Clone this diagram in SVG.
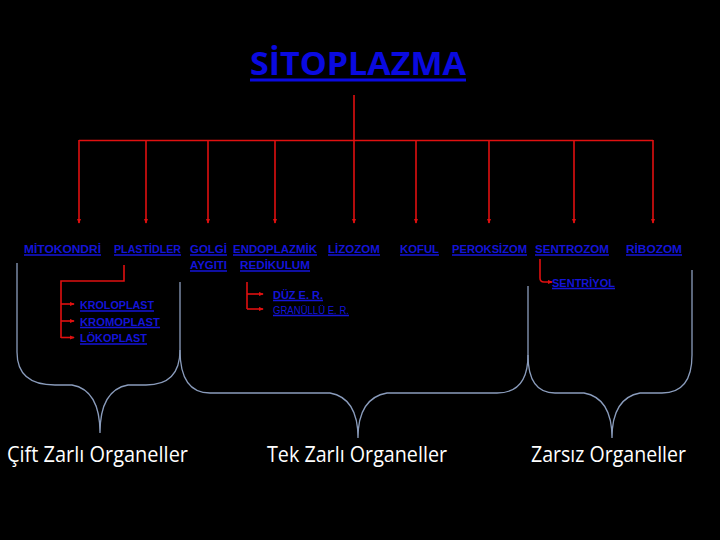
<svg xmlns="http://www.w3.org/2000/svg" width="720" height="540" viewBox="0 0 720 540">
<defs>
<style>
.red{stroke:#e01010;stroke-width:1.6;fill:none}
.ul{stroke:#1414d8;stroke-width:1.4}
.lbl{font-family:"Liberation Sans","DejaVu Sans",sans-serif;font-weight:bold;font-size:11.5px;fill:#1414d8}
.lbl2{font-family:"Liberation Sans","DejaVu Sans",sans-serif;font-size:10.5px;fill:#1414d8}
.brace{stroke:#8a9cbc;stroke-width:1.3;fill:none}
.big{font-family:"Open Sans","Liberation Sans",sans-serif;font-size:21px;fill:#ffffff}
</style>
<marker id="ah" viewBox="0 0 6 6" refX="5" refY="3" markerWidth="5" markerHeight="5" orient="auto" markerUnits="userSpaceOnUse">
<path d="M0,0.5 L6,3 L0,5.5 Z" fill="#e01010"/>
</marker>
</defs>
<rect width="720" height="540" fill="#000000"/>

<g id="title">
<text x="250" y="75" font-family="'Open Sans','Liberation Sans',sans-serif" font-weight="bold" font-size="32" fill="#0a0ae0" textLength="216" lengthAdjust="spacingAndGlyphs">SİTOPLAZMA</text>
<line x1="250" y1="80" x2="466" y2="80" stroke="#0a0ae0" stroke-width="3"/>
</g>

<g id="connectors">
<line class="red" x1="354" y1="95" x2="354" y2="223" marker-end="url(#ah)"/>
<line class="red" x1="79" y1="140.5" x2="653" y2="140.5"/>
<line class="red" x1="79" y1="140" x2="79" y2="223" marker-end="url(#ah)"/>
<line class="red" x1="146" y1="140" x2="146" y2="223" marker-end="url(#ah)"/>
<line class="red" x1="208" y1="140" x2="208" y2="223" marker-end="url(#ah)"/>
<line class="red" x1="275" y1="140" x2="275" y2="223" marker-end="url(#ah)"/>
<line class="red" x1="416" y1="140" x2="416" y2="223" marker-end="url(#ah)"/>
<line class="red" x1="489" y1="140" x2="489" y2="223" marker-end="url(#ah)"/>
<line class="red" x1="574" y1="140" x2="574" y2="223" marker-end="url(#ah)"/>
<line class="red" x1="653" y1="140" x2="653" y2="223" marker-end="url(#ah)"/>
<path class="red" d="M124,265 V281 H61 V338"/>
<line class="red" x1="61" y1="304" x2="74" y2="304" marker-end="url(#ah)"/>
<line class="red" x1="61" y1="321" x2="74" y2="321" marker-end="url(#ah)"/>
<line class="red" x1="61" y1="337.5" x2="74" y2="337.5" marker-end="url(#ah)"/>
<path class="red" d="M247,282 V309"/>
<line class="red" x1="247" y1="294" x2="263" y2="294" marker-end="url(#ah)"/>
<line class="red" x1="247" y1="309" x2="263" y2="309" marker-end="url(#ah)"/>
<path class="red" d="M540,259 V278 Q540,282 544,282 H552" marker-end="url(#ah)"/>
</g>

<g id="mitokondri"><text class="lbl" x="24" y="253" textLength="77" lengthAdjust="spacingAndGlyphs">MİTOKONDRİ</text><line class="ul" x1="24" y1="255" x2="101" y2="255"/></g>
<g id="plastidler"><text class="lbl" x="114" y="253" textLength="67" lengthAdjust="spacingAndGlyphs">PLASTİDLER</text><line class="ul" x1="114" y1="255" x2="181" y2="255"/></g>
<g id="golgi"><text class="lbl"><tspan x="190" y="253" textLength="37" lengthAdjust="spacingAndGlyphs">GOLGİ</tspan><tspan x="190" y="269" textLength="37" lengthAdjust="spacingAndGlyphs">AYGITI</tspan></text>
<line class="ul" x1="190" y1="255" x2="227" y2="255"/><line class="ul" x1="190" y1="271" x2="227" y2="271"/></g>
<g id="er"><text class="lbl"><tspan x="233" y="253" textLength="84" lengthAdjust="spacingAndGlyphs">ENDOPLAZMİK</tspan><tspan x="240" y="269" textLength="70" lengthAdjust="spacingAndGlyphs">REDİKULUM</tspan></text>
<line class="ul" x1="233" y1="255" x2="317" y2="255"/><line class="ul" x1="240" y1="271" x2="310" y2="271"/></g>
<g id="lizozom"><text class="lbl" x="328" y="253" textLength="52" lengthAdjust="spacingAndGlyphs">LİZOZOM</text><line class="ul" x1="328" y1="255" x2="380" y2="255"/></g>
<g id="koful"><text class="lbl" x="400" y="253" textLength="39" lengthAdjust="spacingAndGlyphs">KOFUL</text><line class="ul" x1="400" y1="255" x2="439" y2="255"/></g>
<g id="peroksizom"><text class="lbl" x="452" y="253" textLength="75" lengthAdjust="spacingAndGlyphs">PEROKSİZOM</text><line class="ul" x1="452" y1="255" x2="527" y2="255"/></g>
<g id="sentrozom"><text class="lbl" x="535" y="253" textLength="74" lengthAdjust="spacingAndGlyphs">SENTROZOM</text><line class="ul" x1="535" y1="255" x2="609" y2="255"/></g>
<g id="ribozom"><text class="lbl" x="626" y="253" textLength="56" lengthAdjust="spacingAndGlyphs">RİBOZOM</text><line class="ul" x1="626" y1="255" x2="682" y2="255"/></g>

<g id="kroloplast"><text class="lbl" x="80" y="309" textLength="74" lengthAdjust="spacingAndGlyphs">KROLOPLAST</text><line class="ul" x1="80" y1="311" x2="154" y2="311"/></g>
<g id="kromoplast"><text class="lbl" x="80" y="325.5" textLength="80" lengthAdjust="spacingAndGlyphs">KROMOPLAST</text><line class="ul" x1="80" y1="327.5" x2="160" y2="327.5"/></g>
<g id="lokoplast"><text class="lbl" x="80" y="342" textLength="67" lengthAdjust="spacingAndGlyphs">LÖKOPLAST</text><line class="ul" x1="80" y1="344" x2="147" y2="344"/></g>
<g id="duz-er"><text class="lbl" x="273" y="298.5" textLength="50" lengthAdjust="spacingAndGlyphs">DÜZ E. R.</text><line class="ul" x1="273" y1="300.5" x2="323" y2="300.5"/></g>
<g id="granullu-er"><text class="lbl2" x="273" y="313.5" textLength="76" lengthAdjust="spacingAndGlyphs">GRANÜLLÜ E. R.</text><line class="ul" x1="273" y1="315.5" x2="349" y2="315.5"/></g>
<g id="sentriyol"><text class="lbl" x="552" y="286.5" textLength="63" lengthAdjust="spacingAndGlyphs">SENTRİYOL</text><line class="ul" x1="552" y1="288.5" x2="615" y2="288.5"/></g>

<g id="braces">
<path class="brace" d="M17,263 V352 Q17,385 55,385 H72 Q100,390 100,433 Q100,390 128,385 H146 Q180,385 180,350 V282"/>
<path class="brace" d="M180,350 Q180,393 210,393 H330 Q358,398 358,438 Q358,398 387,393 H497 Q528,393 528,355 V286"/>
<path class="brace" d="M528,355 Q528,393 555,393 H584 Q612,398 612,438 Q612,398 640,393 H662 Q692,393 692,355 V270"/>
</g>

<g id="cift-zarli"><text class="big" x="7" y="462" textLength="181" lengthAdjust="spacingAndGlyphs">Çift Zarlı Organeller</text></g>
<g id="tek-zarli"><text class="big" x="267" y="462" textLength="180" lengthAdjust="spacingAndGlyphs">Tek Zarlı Organeller</text></g>
<g id="zarsiz"><text class="big" x="531" y="462" textLength="155" lengthAdjust="spacingAndGlyphs">Zarsız Organeller</text></g>
</svg>
